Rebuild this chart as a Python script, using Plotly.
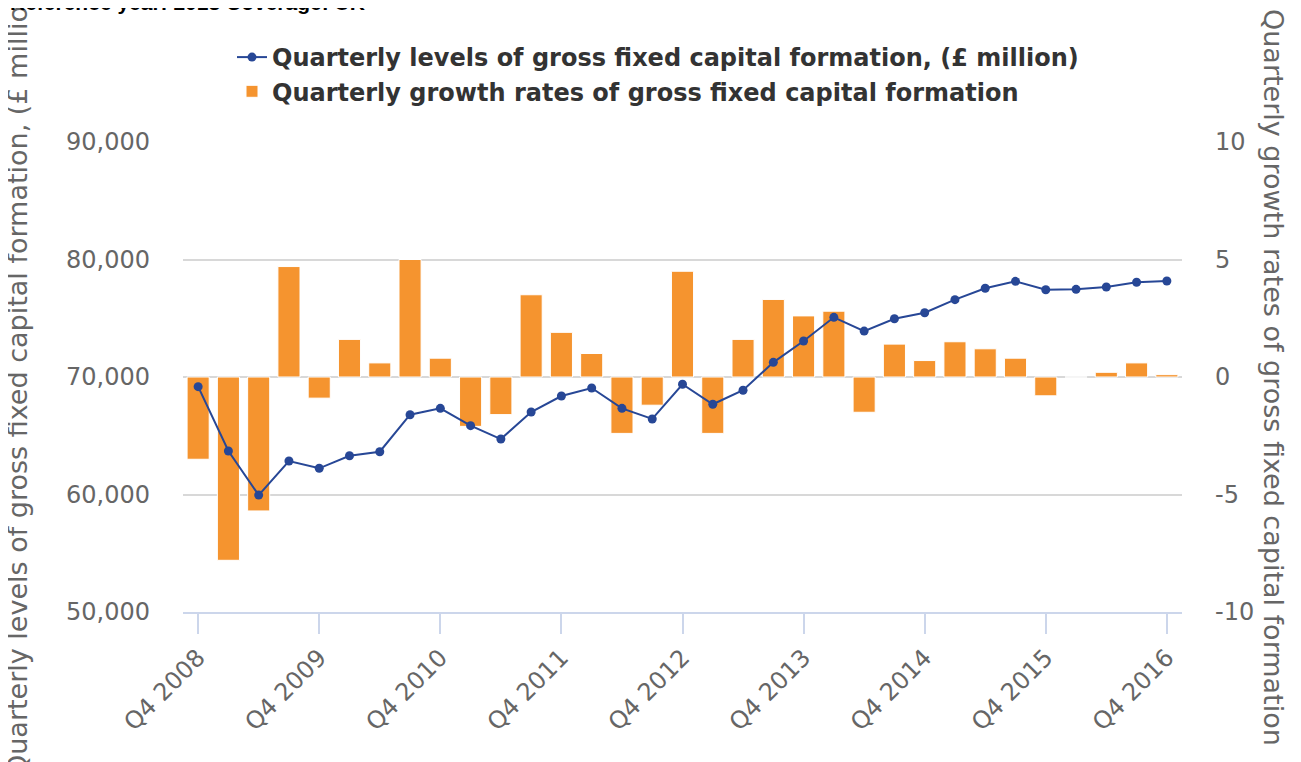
import plotly.graph_objects as go

categories = [
    "Q4 2008", "Q1 2009", "Q2 2009", "Q3 2009", "Q4 2009",
    "Q1 2010", "Q2 2010", "Q3 2010", "Q4 2010",
    "Q1 2011", "Q2 2011", "Q3 2011", "Q4 2011",
    "Q1 2012", "Q2 2012", "Q3 2012", "Q4 2012",
    "Q1 2013", "Q2 2013", "Q3 2013", "Q4 2013",
    "Q1 2014", "Q2 2014", "Q3 2014", "Q4 2014",
    "Q1 2015", "Q2 2015", "Q3 2015", "Q4 2015",
    "Q1 2016", "Q2 2016", "Q3 2016", "Q4 2016",
]

levels = [
    69180, 63700, 59950, 62850, 62230, 63300, 63640, 66790, 67330,
    65860, 64720, 67020, 68380, 69060, 67330, 66430, 69380, 67680,
    68870, 71250, 73060, 75080, 73910, 74960, 75470, 76580, 77550,
    78140, 77430, 77460, 77660, 78060, 78170,
]

growth = [
    -3.5, -7.8, -5.7, 4.7, -0.9, 1.6, 0.6, 5.0, 0.8,
    -2.1, -1.6, 3.5, 1.9, 1.0, -2.4, -1.2, 4.5, -2.4,
    1.6, 3.3, 2.6, 2.8, -1.5, 1.4, 0.7, 1.5, 1.2,
    0.8, -0.8, 0.0, 0.2, 0.6, 0.1,
]

tick_labels = categories[::4]
growth_ticks = [-10, -5, 0, 5, 10]
growth_tick_text = ["-10", "-5", "0", "5", "10"]

name_levels = "Quarterly levels of gross fixed capital formation, (£ million)"
name_growth = "Quarterly growth rates of gross fixed capital formation"

BLUE = "#274796"
ORANGE = "#F5942F"
GRID = "#d8d8d8"
AXIS = "#ccd6eb"
TEXT = "#666666"
FONT = "DejaVu Sans"

# page offset of the figure (default body margin)
OX, OY = 8, 8
W, H = 1293, 754
ML, MR, MT, MB = 175, 119, 134, 150
PW = W - ML - MR
PH = H - MT - MB


def px_x(p):
    return (p - OX - ML) / PW


def px_y(p):
    return (H - MB - (p - OY)) / PH


fig = go.Figure()

fig.add_trace(go.Scatter(
    x=categories, y=levels, name=name_levels, yaxis="y2",
    mode="lines+markers",
    line=dict(color=BLUE, width=2),
    marker=dict(color=BLUE, size=9),
))

fig.add_trace(go.Bar(
    x=categories, y=growth, name=name_growth, yaxis="y",
    marker=dict(color=ORANGE, line=dict(color="#ffffff", width=1)),
))

fig.update_layout(
    width=W, height=H,
    margin=dict(l=ML, r=MR, t=MT, b=MB, pad=0),
    paper_bgcolor="white", plot_bgcolor="white",
    font=dict(family=FONT, size=24, color=TEXT),
    bargap=0.27,
    showlegend=True,
    legend=dict(
        orientation="v", traceorder="normal",
        x=px_x(232), y=px_y(35), xanchor="left", yanchor="top",
        font=dict(family=FONT, size=24, color="#333333", weight="bold"),
        bgcolor="rgba(0,0,0,0)",
        tracegroupgap=0,
    ),
    xaxis=dict(
        type="category",
        range=[-0.5, len(categories) - 0.5],
        tickmode="array", tickvals=tick_labels, ticktext=tick_labels,
        tickangle=-45,
        showline=True, linecolor=AXIS, linewidth=2,
        ticks="outside", ticklen=20, tickwidth=2, tickcolor=AXIS,
        showgrid=False, zeroline=False,
        tickfont=dict(family=FONT, size=24, color=TEXT),
    ),
    yaxis=dict(
        side="right",
        range=[-10, 10], tickmode="array",
        tickvals=growth_ticks, ticktext=growth_tick_text,
        showgrid=True, gridcolor=GRID, gridwidth=2,
        zeroline=False, showline=False, ticks="",
        ticklabelstandoff=32,
        tickfont=dict(family=FONT, size=24, color=TEXT),
    ),
    yaxis2=dict(
        side="left", overlaying="y",
        range=[50000, 90000], tickmode="linear", tick0=50000, dtick=10000,
        tickformat=",",
        showgrid=False, zeroline=False, showline=False, ticks="",
        ticklabelstandoff=32,
        tickfont=dict(family=FONT, size=24, color=TEXT),
    ),
    annotations=[
        dict(
            text=name_levels, textangle=-90,
            xref="paper", yref="paper", x=px_x(17), y=px_y(377),
            xanchor="center", yanchor="middle", showarrow=False,
            font=dict(family=FONT, size=27, color=TEXT),
        ),
        dict(
            text=name_growth, textangle=90,
            xref="paper", yref="paper", x=px_x(1274), y=px_y(377),
            xanchor="center", yanchor="middle", showarrow=False,
            font=dict(family=FONT, size=27, color=TEXT),
        ),
        dict(
            text="<b>Reference year: 2013 Coverage: UK</b>",
            xref="paper", yref="paper", x=px_x(8), y=px_y(16),
            xanchor="left", yanchor="bottom", showarrow=False,
            font=dict(family="Liberation Sans", size=21, color="#000000"),
        ),
    ],
)

fig.write_html("out.html")
